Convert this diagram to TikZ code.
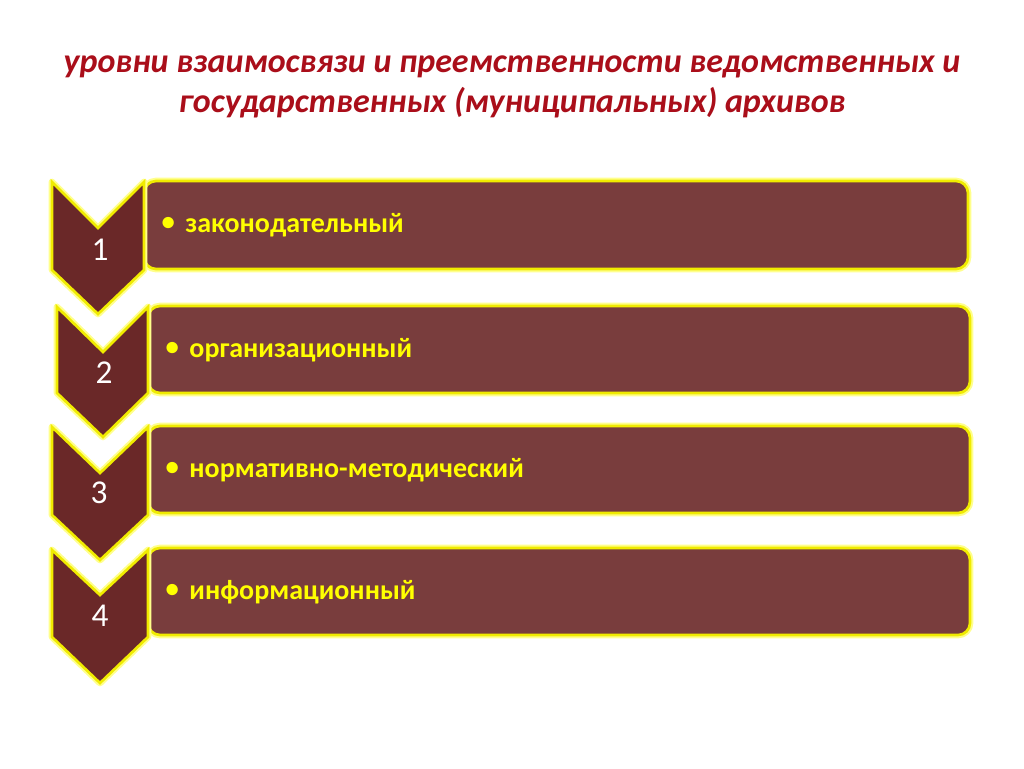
\documentclass[tikz,border=0pt]{standalone}
\usepackage{fontspec}
\setmainfont{Carlito}

\tikzset{every picture/.style={line width=0.75pt}}
\tikzset{
  glow/.style={draw={rgb, 255:red, 255; green, 255; blue, 140}, line width=5pt, line join=round},
  chev/.style={fill={rgb, 255:red, 106; green, 40; blue, 40}, draw={rgb, 255:red, 240; green, 235; blue, 0}, line width=2pt, line join=miter},
  lvlbox/.style={fill={rgb, 255:red, 121; green, 61; blue, 61}, draw={rgb, 255:red, 240; green, 235; blue, 0}, line width=2pt, rounded corners=9pt},
  numtext/.style={font=\fontsize{25}{30}\selectfont, color=white},
  lvltext/.style={font=\fontsize{21}{25}\selectfont\bfseries, color={rgb, 255:red, 255; green, 255; blue, 0}},
}

\begin{document}
\begin{tikzpicture}[x=0.75pt,y=0.75pt,yscale=-1,xscale=1]
\useasboundingbox (0,0) rectangle (1024,768);
\fill[white] (0,0) rectangle (1024,768);

% Title
\draw (512,87) node [anchor=center][inner sep=0.75pt] [font=\fontsize{25.5}{30}\selectfont\bfseries\itshape, color={rgb, 255:red, 170; green, 14; blue, 26}, align=center] (title) {уровни взаимосвязи и преемственности ведомственных и\\государственных (муниципальных) архивов};

%Shape: Rounded Rect 1
\draw [glow, rounded corners=9pt] (144,181) rectangle (968,269) ;
\draw [lvlbox] (144,181) rectangle (968,269) ;
%Shape: Chevron 1
\draw [glow] (52,182) -- (98,228) -- (144,182) -- (144,270) -- (98,314) -- (52,270) -- cycle ;
\draw [chev] (52,182) -- (98,228) -- (144,182) -- (144,270) -- (98,314) -- (52,270) -- cycle ;

%Shape: Rounded Rect 2
\draw [glow, rounded corners=9pt] (148,306) rectangle (970,393) ;
\draw [lvlbox] (148,306) rectangle (970,393) ;
%Shape: Chevron 2
\draw [glow] (57,307) -- (103,352) -- (148,307) -- (148,393) -- (103,437) -- (57,393) -- cycle ;
\draw [chev] (57,307) -- (103,352) -- (148,307) -- (148,393) -- (103,437) -- (57,393) -- cycle ;

%Shape: Rounded Rect 3
\draw [glow, rounded corners=9pt] (148,426) rectangle (970,513) ;
\draw [lvlbox] (148,426) rectangle (970,513) ;
%Shape: Chevron 3
\draw [glow] (52,427) -- (100,473) -- (148,427) -- (148,515) -- (100,560) -- (52,515) -- cycle ;
\draw [chev] (52,427) -- (100,473) -- (148,427) -- (148,515) -- (100,560) -- (52,515) -- cycle ;

%Shape: Rounded Rect 4
\draw [glow, rounded corners=9pt] (148,548) rectangle (970,635) ;
\draw [lvlbox] (148,548) rectangle (970,635) ;
%Shape: Chevron 4
\draw [glow] (52,550) -- (100,595) -- (148,550) -- (148,637) -- (100,683) -- (52,637) -- cycle ;
\draw [chev] (52,550) -- (100,595) -- (148,550) -- (148,637) -- (100,683) -- (52,637) -- cycle ;

% Text Node
\draw (100,250) node [anchor=center][inner sep=0.75pt] [numtext] (num1) {1};
% Text Node
\draw (104,373) node [anchor=center][inner sep=0.75pt] [numtext] (num2) {2};
% Text Node
\draw (99,493) node [anchor=center][inner sep=0.75pt] [numtext] (num3) {3};
% Text Node
\draw (100,616) node [anchor=center][inner sep=0.75pt] [numtext] (num4) {4};

% Text Node
\draw (160,225) node [anchor=west][inner sep=0.75pt] [lvltext] (lvl1) {\raisebox{1pt}{\fontsize{20}{20}\selectfont•}\hspace{8pt}законодательный};
% Text Node
\draw (164,350) node [anchor=west][inner sep=0.75pt] [lvltext] (lvl2) {\raisebox{1pt}{\fontsize{20}{20}\selectfont•}\hspace{8pt}организационный};
% Text Node
\draw (164,470) node [anchor=west][inner sep=0.75pt] [lvltext] (lvl3) {\raisebox{1pt}{\fontsize{20}{20}\selectfont•}\hspace{8pt}нормативно-методический};
% Text Node
\draw (164,592) node [anchor=west][inner sep=0.75pt] [lvltext] (lvl4) {\raisebox{1pt}{\fontsize{20}{20}\selectfont•}\hspace{8pt}информационный};

\end{tikzpicture}
\end{document}
